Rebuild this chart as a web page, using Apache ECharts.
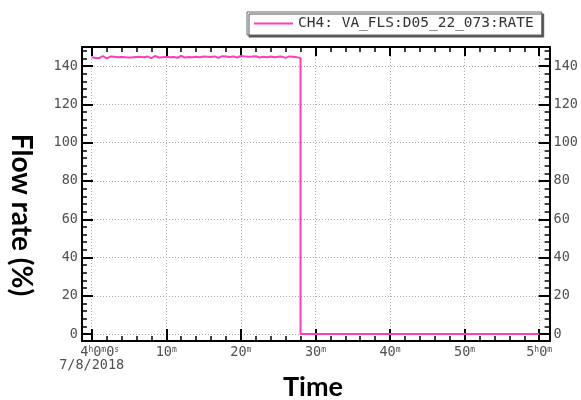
<!DOCTYPE html>
<html>
<head>
<meta charset="utf-8">
<script src="https://cdn.jsdelivr.net/npm/echarts@6/dist/echarts.min.js"></script>
<style>html,body{margin:0;padding:0;background:#fff;}#c{width:581px;height:400px;}</style>
</head>
<body>
<div id="c"></div>
<script>
// ---- data ----
var seriesName = 'CH4: VA_FLS:D05_22_073:RATE';
var sampleStartMin = 0;      // minutes after 4h0m0s
var sampleStepMin = 0.25;
var highValues = [
144.6,145.1,144.3,144.8,144.2,144.9,145.3,144.5,144.1,144.7,145.0,144.4,144.9,144.3,144.6,145.2,144.8,144.2,144.7,145.1,
144.5,144.0,144.6,145.0,144.8,144.3,144.9,145.4,144.7,144.4,145.0,144.6,144.2,144.8,145.3,144.9,144.5,145.1,144.7,144.3,
144.9,145.2,144.6,144.1,144.8,145.0,144.4,144.7,145.3,144.9,144.5,144.2,144.8,145.1,144.6,144.3,144.9,145.2,144.7,144.4,
145.0,144.6,144.9,145.4,144.8,144.5,145.1,144.7,144.3,144.9,145.2,144.6,145.0,145.5,144.8,144.4,145.1,144.9,144.5,145.0,
145.3,144.8,145.1,144.6,144.9,145.4,145.0,144.7,145.2,144.8,144.5,145.1,144.9,145.3,144.7,144.4,145.0,144.8,144.6,145.2,
144.9,144.5,145.0,144.7,144.3,144.8,145.1,144.6,144.9,144.4,144.7,144.5,144.2
];
var lowTimes = [28, 60];
var lowValues = [0, 0];
var xMajorTicks = [0, 10, 20, 30, 40, 50, 60];
var xMinorTicks = [0,2,4,6,8,10,12,14,16,18,20,22,24,26,28,30,32,34,36,38,40,42,44,46,48,50,52,54,56,58,60];
var yMajorTicks = [0, 20, 40, 60, 80, 100, 120, 140];
var yMinorTicks = [0,4,8,12,16,20,24,28,32,36,40,44,48,52,56,60,64,68,72,76,80,84,88,92,96,100,104,108,112,116,120,124,128,132,136,140,144,148];
var dateLabel = '7/8/2018';
var yTitle = 'Flow rate (%)';
var xTitle = 'Time';

// ---- build ----
var points = [];
for (var i = 0; i < highValues.length; i++) points.push([sampleStartMin + i * sampleStepMin, highValues[i]]);
for (var j = 0; j < lowTimes.length; j++) points.push([lowTimes[j], lowValues[j]]);

var X_MIN = -1.3, X_MAX = 61.4, Y_MIN = -3.6, Y_MAX = 150;
var mono = 'DejaVu Sans Mono';
var lblColor = '#505050';

function xLabel(v) {
  if (v === 0) return '{p|}{n|4}{s|h}{n|0}{s|m}{n|0}{s|s}\n{n|' + dateLabel + '}';
  if (v === 60) return '{n|5}{s|h}{n|0}{s|m}';
  return '{n|' + v + '}{s|m}';
}
var rich = {
  n: {fontFamily: mono, fontSize: 13.5, color: lblColor, lineHeight: 13},
  s: {fontFamily: mono, fontSize: 8, color: lblColor, verticalAlign: 'top'},
  p: {width: 16}
};

function xAxisDef(pos, ticks, len, w, main, labels) {
  return {
    type: 'value', position: pos, min: X_MIN, max: X_MAX,
    axisLine: {show: main, onZero: false, lineStyle: {color: '#000', width: 2}},
    axisTick: {show: true, inside: true, length: len, customValues: ticks, lineStyle: {color: '#000', width: w}},
    axisLabel: labels ? {show: true, customValues: xMajorTicks, margin: 5, formatter: xLabel, rich: rich, color: lblColor} : {show: false},
    splitLine: labels ? {show: true, lineStyle: {color: '#aaaaaa', type: [1, 2], width: 1}} : {show: false}
  };
}
function yAxisDef(pos, ticks, len, w, main, labels) {
  return {
    type: 'value', position: pos, min: Y_MIN, max: Y_MAX,
    axisLine: {show: main, onZero: false, lineStyle: {color: '#000', width: 2}},
    axisTick: {show: true, inside: true, length: len, customValues: ticks, lineStyle: {color: '#000', width: w}},
    axisLabel: labels ? {show: true, customValues: yMajorTicks, margin: 4, fontFamily: mono, fontSize: 13.5, color: lblColor} : {show: false},
    splitLine: (labels && pos === 'left') ? {show: true, lineStyle: {color: '#aaaaaa', type: [1, 2], width: 1}} : {show: false}
  };
}

var chart = echarts.init(document.getElementById('c'), null, {renderer: 'canvas'});
chart.setOption({
  animation: false,
  backgroundColor: '#fff',
  grid: {left: 82, top: 47, width: 472, height: 294, containLabel: false},
  legend: {
    show: true, left: 247, top: 12, orient: 'horizontal',
    data: [seriesName], icon: 'rect', itemWidth: 39, itemHeight: 2, itemGap: 4,
    padding: [4, 8, 4, 7], backgroundColor: '#fff', borderColor: '#666', borderWidth: 1, borderRadius: 0,
    shadowColor: '#555', shadowOffsetX: 2, shadowOffsetY: 2, shadowBlur: 0,
    textStyle: {fontFamily: mono, fontSize: 14.5, color: '#333', padding: [0, 0, 0, 0]}
  },
  xAxis: [
    xAxisDef('bottom', xMajorTicks, 12, 2, true, true),
    xAxisDef('bottom', xMinorTicks, 5, 1.5, false, false),
    xAxisDef('top', xMajorTicks, 9, 2, true, false),
    xAxisDef('top', xMinorTicks, 5, 1.5, false, false)
  ],
  yAxis: [
    yAxisDef('left', yMajorTicks, 11, 2, true, true),
    yAxisDef('left', yMinorTicks, 5, 1.5, false, false),
    yAxisDef('right', yMajorTicks, 11, 2, true, true),
    yAxisDef('right', yMinorTicks, 5, 1.5, false, false)
  ],
  series: [{
    name: seriesName, type: 'line', xAxisIndex: 0, yAxisIndex: 0,
    data: points, showSymbol: false, symbol: 'none',
    lineStyle: {color: '#ff3db8', width: 2}, itemStyle: {color: '#ff3db8'}
  }],
  graphic: [
    {type: 'text', x: 21, y: 215, rotation: -Math.PI / 2,
     style: {text: yTitle, font: 'bold 28px Lato', fill: '#000', textAlign: 'center', textVerticalAlign: 'middle'}},
    {type: 'text', x: 313, y: 387,
     style: {text: xTitle, font: 'bold 27px Lato', fill: '#000', textAlign: 'center', textVerticalAlign: 'middle'}}
  ]
});
</script>
</body>
</html>
